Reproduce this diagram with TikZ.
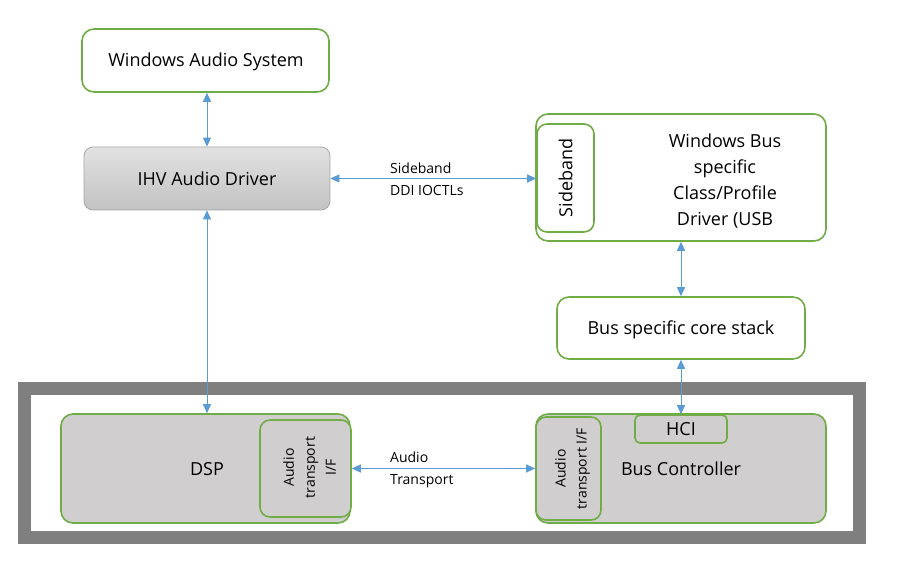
\documentclass[tikz,border=0pt]{standalone}
\usepackage{fontspec}
\setmainfont{Open Sans}
\usetikzlibrary{arrows.meta,positioning}
\definecolor{grn}{HTML}{70AD47}
\definecolor{blu}{HTML}{5B9BD5}
\definecolor{frm}{HTML}{7F7F7F}
\definecolor{boxg}{HTML}{D0CECE}
\definecolor{ihvtop}{HTML}{E2E2E2}
\definecolor{ihvbot}{HTML}{C2C2C2}
\definecolor{ihvline}{HTML}{A6A6A6}
\tikzset{
  gbox/.style={draw=grn, line width=1.6pt, rounded corners=12pt, fill=white, inner sep=0pt, align=center, font=\fontsize{18}{22}\selectfont},
  gfill/.style={gbox, fill=boxg},
  ibox/.style={draw=grn, line width=1.6pt, rounded corners=10pt, inner sep=0pt, align=center},
  arr/.style={draw=blu, line width=1pt, {Triangle[length=9pt,width=8pt]}-{Triangle[length=9pt,width=8pt]}},
  lbl/.style={font=\fontsize{14}{22}\selectfont, align=left, inner sep=0pt},
  small/.style={font=\fontsize{14}{21}\selectfont, align=center, inner sep=0pt},
  big/.style={font=\fontsize{18}{22}\selectfont}
}
\begin{document}
\begin{tikzpicture}[x=1pt,y=-1pt]
\useasboundingbox[fill=white] (0,0) rectangle (904,574);
% outer frame
\draw[frm, line width=13pt] (24,388) rectangle (859.5,537);
% top boxes
\node[gbox, minimum width=247pt, minimum height=63pt] (was) at (205.5,60.5) {};
\node[big] (wast) at (206,61.5) {Windows Audio System};
\node[draw=ihvline, line width=0.8pt, rounded corners=9pt, top color=ihvtop, bottom color=ihvbot,
      minimum width=246pt, minimum height=63pt, big] (ihv) at (207,178.5) {IHV Audio Driver};
\node[gbox, minimum width=290pt, minimum height=127pt] (wbus) at (681,177.5) {};
\node[ibox, minimum width=57pt, minimum height=108pt] (side) at (565.5,178) {};
\node[rotate=90, big] (sidet) at (side) {Sideband};
\node[font=\fontsize{18}{26}\selectfont, align=center, inner sep=0pt] (wbust) at (725,181) {Windows Bus\\specific\\Class/Profile\\Driver (USB};
\node[gbox, minimum width=248pt, minimum height=62pt] (core) at (681,328) {};
\node[big] (coret) at (681,330) {Bus specific core stack};
% bottom boxes
\node[gfill, minimum width=289pt, minimum height=109pt] (dsp) at (205.5,468.5) {};
\node[big] (dspt) at (207,469) {DSP};
\node[ibox, fill=boxg, minimum width=91pt, minimum height=97pt] (datif) at (305.5,468.5) {};
\node[small, rotate=90] (datift) at (309.5,467.5) {Audio\\transport\\I/F};
\node[gfill, minimum width=290pt, minimum height=109pt] (bc) at (681,468.5) {};
\node[big] (bct) at (681,469) {Bus Controller};
\node[ibox, fill=boxg, minimum width=65pt, minimum height=103pt] (batif) at (568.5,468.5) {};
\node[small, rotate=90] (batift) at (572.5,468.5) {Audio\\transport I/F};
\node[ibox, rounded corners=5pt, fill=boxg, minimum width=92pt, minimum height=28pt, big] (hci) at (681,429) {HCI};
% connectors
\draw[arr] (was.south -| ihv.north) -- (ihv.north);
\draw[arr] (ihv.south) -- (ihv.south |- dsp.north);
\draw[arr] (ihv.east) -- (ihv.east -| side.west);
\draw[arr] (wbus.south) -- (core.north);
\draw[arr] (core.south) -- (hci.north);
\draw[arr] (datif.east) -- (datif.east -| batif.west);
% labels
\node[lbl, anchor=west] (l1) at (390,179) {Sideband\\DDI IOCTLs};
\node[lbl, anchor=west] (l2) at (390,470) {Audio\\Transport};
\end{tikzpicture}
\end{document}
